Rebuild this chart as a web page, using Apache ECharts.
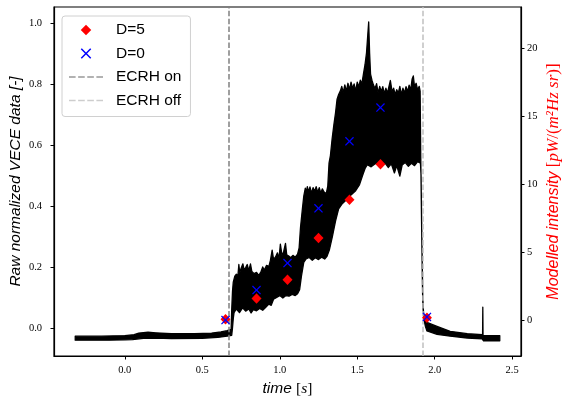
<!DOCTYPE html>
<html><head><meta charset="utf-8">
<script src="https://cdn.jsdelivr.net/npm/echarts@6/dist/echarts.min.js"></script>
<style>html,body{margin:0;padding:0;background:#fff}#c{width:563px;height:398px}</style>
</head><body><div id="c"></div>
<script>
// ---- tick labels ----
const X_TICKS = [0.0, 0.5, 1.0, 1.5, 2.0, 2.5];
const Y_LEFT_TICKS = [0.0, 0.2, 0.4, 0.6, 0.8, 1.0];
const Y_RIGHT_TICKS = [0, 5, 10, 15, 20];

// ---- ECRH switching times [s] ----
const ECRH_ON = 0.67;
const ECRH_OFF = 1.92;

// ---- modelled intensity points [pW/(m^2 Hz sr)] ----
const MODEL_T = [0.65, 0.85, 1.05, 1.25, 1.45, 1.65, 1.95];
const D5 = [0.10, 1.64, 3.00, 6.07, 8.88, 11.48, 0.22];
const D0 = [0.05, 2.25, 4.23, 8.25, 13.17, 15.65, 0.28];

// ---- raw VECE signal: upper / lower envelope of the noisy trace ----
const UPPER_T = [-0.320,-0.150,0.000,0.060,0.090,0.150,0.200,0.300,0.450,0.560,0.620,0.660,0.686,0.690,0.695,
0.700,0.710,0.720,0.730,0.736,0.742,0.750,0.762,0.770,0.780,0.790,0.800,0.811,0.820,0.835,0.850,0.865,0.880,0.890,0.900,
0.915,0.930,0.940,0.951,0.960,0.972,0.985,0.995,1.004,1.015,1.025,1.037,1.045,1.058,1.070,1.085,1.100,1.115,1.125,1.134,
1.145,1.155,1.165,1.172,1.178,1.185,1.195,1.205,1.215,1.225,1.235,1.245,1.255,1.265,1.275,1.285,1.300,1.310,1.318,1.327,
1.338,1.349,1.360,1.370,1.380,1.392,1.400,1.410,1.420,1.430,1.440,1.450,1.460,1.470,1.480,1.490,1.500,1.510,1.520,1.530,
1.540,1.550,1.560,1.568,1.574,1.580,1.586,1.595,1.605,1.615,1.625,1.635,1.645,1.655,1.665,1.675,1.685,1.695,1.705,1.714,
1.725,1.735,1.745,1.755,1.765,1.775,1.785,1.795,1.805,1.815,1.825,1.835,1.845,1.854,1.862,1.870,1.880,1.890,1.900,1.906,
1.910,1.916,1.922,1.928,1.935,1.950,2.015,2.100,2.210,2.306,2.309,2.3105,2.312,2.420];
const UPPER_V = [-0.027,-0.027,-0.025,-0.022,-0.017,-0.014,-0.016,-0.019,-0.019,-0.017,-0.013,-0.009,-0.005,0.060,0.120,
0.150,0.170,0.176,0.172,0.208,0.180,0.195,0.210,0.190,0.198,0.208,0.188,0.210,0.185,0.178,0.182,0.172,0.186,0.200,0.190,
0.205,0.202,0.222,0.255,0.225,0.232,0.246,0.228,0.275,0.236,0.250,0.277,0.240,0.236,0.230,0.238,0.232,0.242,0.262,0.330,
0.385,0.432,0.458,0.445,0.463,0.446,0.462,0.442,0.460,0.447,0.463,0.445,0.460,0.442,0.456,0.446,0.440,0.465,0.540,0.565,
0.620,0.665,0.705,0.750,0.765,0.778,0.792,0.772,0.797,0.776,0.802,0.781,0.806,0.786,0.800,0.776,0.806,0.790,0.812,0.800,
0.832,0.862,0.902,0.960,1.003,0.900,0.832,0.812,0.796,0.785,0.801,0.770,0.792,0.775,0.791,0.768,0.786,0.770,0.792,0.811,
0.775,0.786,0.765,0.781,0.770,0.792,0.765,0.786,0.770,0.791,0.775,0.796,0.780,0.815,0.826,0.790,0.802,0.780,0.792,0.776,
0.560,0.320,0.110,0.050,0.030,0.018,0.005,-0.011,-0.019,-0.022,-0.022,0.068,-0.025,-0.025];
const LOWER_T = [-0.320,-0.100,0.000,0.050,0.120,0.200,0.300,0.500,0.600,0.660,0.690,0.695,0.700,0.705,0.720,0.740,0.760,
0.780,0.800,0.815,0.830,0.850,0.870,0.890,0.910,0.930,0.945,0.960,0.980,1.000,1.020,1.040,1.060,1.080,1.100,1.115,1.128,
1.140,1.155,1.170,1.190,1.210,1.230,1.250,1.270,1.290,1.305,1.320,1.340,1.360,1.380,1.400,1.430,1.460,1.490,1.515,1.535,
1.550,1.565,1.590,1.620,1.650,1.680,1.700,1.720,1.740,1.755,1.775,1.790,1.810,1.830,1.850,1.870,1.890,1.908,1.912,1.918,
1.924,1.930,1.940,1.950,2.015,2.100,2.210,2.306,2.315,2.420];
const LOWER_V = [-0.040,-0.040,-0.039,-0.038,-0.034,-0.033,-0.035,-0.034,-0.031,-0.027,-0.024,0.000,0.030,0.050,0.062,0.050,0.066,
0.055,0.062,0.049,0.060,0.056,0.064,0.058,0.068,0.078,0.074,0.094,0.100,0.106,0.098,0.106,0.104,0.110,0.106,0.112,0.125,
0.170,0.215,0.226,0.231,0.222,0.230,0.224,0.232,0.226,0.235,0.255,0.300,0.350,0.390,0.405,0.420,0.436,0.450,0.470,0.500,
0.522,0.535,0.528,0.540,0.530,0.540,0.526,0.538,0.508,0.532,0.498,0.534,0.542,0.530,0.540,0.532,0.545,0.540,0.500,0.270,
0.070,0.030,0.005,-0.010,-0.021,-0.027,-0.033,-0.036,-0.042,-0.042];

const chart = echarts.init(document.getElementById('c'), null, {renderer: 'canvas'});

const X_MARK = 'path://M0,1L1,0L5,4L9,0L10,1L6,5L10,9L9,10L5,6L1,10L0,9L4,5Z';
const DIAMOND = 'path://M5,0L10,5L5,10L0,5Z';
const DASH_ICON = 'path://M0,0h6.6v1.5h-6.6zM9.1,0h6.6v1.5h-6.6zM18.2,0h6.6v1.5h-6.6zM27.3,0h6.6v1.5h-6.6z';
const DASH = [5.5, 2.4];
const serif = 'Liberation Serif', sans = 'Liberation Sans';

chart.setOption({
  animation: false,
  backgroundColor: '#fff',
  grid: {left: 54, right: 42, top: 7, bottom: 42, show: true, borderColor: '#000', borderWidth: 1.2,
         backgroundColor: 'transparent', containLabel: false, outerBoundsMode: 'none'},
  legend: {
    orient: 'vertical', left: 62, top: 16,
    data: [
      {name: 'D=5', icon: DIAMOND},
      {name: 'D=0', icon: X_MARK},
      {name: 'ECRH on', icon: DASH_ICON},
      {name: 'ECRH off', icon: DASH_ICON}
    ],
    symbolKeepAspect: true,
    itemWidth: 34, itemHeight: 10.5, itemGap: 7.5,
    padding: [6, 9, 8, 7],
    backgroundColor: 'rgba(255,255,255,0.8)', borderColor: '#d0d0d0', borderWidth: 1, borderRadius: 3,
    textStyle: {fontFamily: sans, fontSize: 15.5, lineHeight: 16, color: '#000', padding: [0, 0, 0, 8]},
    selectedMode: false
  },
  xAxis: {
    type: 'value', min: -0.457, max: 2.557,
    axisLine: {onZero: false, lineStyle: {color: '#000', width: 1.2}},
    axisTick: {customValues: X_TICKS, length: 3.5, lineStyle: {color: '#000', width: 1}},
    axisLabel: {customValues: X_TICKS, formatter: v => v.toFixed(1), fontFamily: serif, fontSize: 10.5, color: '#000', margin: 9},
    splitLine: {show: false},
    name: '{a|time }{b|[}{c|s}{b|]}', nameLocation: 'middle', nameGap: 25,
    nameTextStyle: {rich: {
      a: {fontFamily: sans, fontStyle: 'italic', fontSize: 15.5, color: '#000'},
      b: {fontFamily: serif, fontSize: 15.5, color: '#000'},
      c: {fontFamily: serif, fontStyle: 'italic', fontSize: 15.5, color: '#000'}
    }}
  },
  yAxis: [
    {
      type: 'value', position: 'left', min: -0.092, max: 1.052,
      axisLine: {show: true, onZero: false, lineStyle: {color: '#000', width: 1.2}},
      axisTick: {show: true, customValues: Y_LEFT_TICKS, length: 3.5, lineStyle: {color: '#000', width: 1}},
      axisLabel: {customValues: Y_LEFT_TICKS, formatter: v => v.toFixed(1), fontFamily: serif, fontSize: 10.5, color: '#000', margin: 12},
      splitLine: {show: false},
      name: 'Raw normalized VECE data [-]', nameLocation: 'middle', nameGap: 30, nameRotate: 90, nameMoveOverlap: false,
      nameTextStyle: {fontFamily: sans, fontStyle: 'italic', fontSize: 15.5, color: '#000'}
    },
    {
      type: 'value', position: 'right', min: -2.59, max: 23.03,
      axisLine: {show: true, onZero: false, lineStyle: {color: '#000', width: 1.2}},
      axisTick: {show: true, customValues: Y_RIGHT_TICKS, length: 3.5, lineStyle: {color: '#000', width: 1}},
      axisLabel: {customValues: Y_RIGHT_TICKS, formatter: v => String(v), fontFamily: serif, fontSize: 10.5, color: '#000', margin: 6},
      splitLine: {show: false},
      name: '{a|Modelled intensity }{b|[}{c|pW}{b|/(}{c|m²Hz sr}{b|)]}', nameLocation: 'middle', nameGap: 24, nameRotate: 90, nameMoveOverlap: false,
      nameTextStyle: {rich: {
        a: {fontFamily: sans, fontStyle: 'italic', fontSize: 16, color: '#ff0000'},
        b: {fontFamily: serif, fontSize: 17, color: '#ff0000'},
        c: {fontFamily: serif, fontStyle: 'italic', fontSize: 17, color: '#ff0000'}
      }}
    }
  ],
  series: [
    {
      type: 'custom', name: 'VECE', xAxisIndex: 0, yAxisIndex: 0, clip: true, silent: true, z: 1,
      data: [[UPPER_T[0], UPPER_V[0]]],
      renderItem: (params, api) => {
        const pts = [];
        for (let i = 0; i < UPPER_T.length; i++) pts.push(api.coord([UPPER_T[i], UPPER_V[i]]));
        for (let i = LOWER_T.length - 1; i >= 0; i--) pts.push(api.coord([LOWER_T[i], LOWER_V[i]]));
        return {type: 'polygon', shape: {points: pts}, style: {fill: '#000', stroke: '#000', lineWidth: 1.3, lineJoin: 'round'}};
      }
    },
    {
      type: 'scatter', name: 'ECRH on', data: [], z: 5,
      itemStyle: {color: '#808080'},
      markLine: {silent: true, symbol: ['none', 'none'], label: {show: false},
        lineStyle: {color: '#808080', type: DASH, width: 1.5}, data: [{xAxis: ECRH_ON}]}
    },
    {
      type: 'scatter', name: 'ECRH off', data: [], z: 5,
      itemStyle: {color: '#c0c0c0'},
      markLine: {silent: true, symbol: ['none', 'none'], label: {show: false},
        lineStyle: {color: '#c0c0c0', type: DASH, width: 1.5}, data: [{xAxis: ECRH_OFF}]}
    },
    {
      type: 'scatter', name: 'D=5', yAxisIndex: 1, z: 6,
      data: MODEL_T.map((t, i) => [t, D5[i]]),
      symbol: 'diamond', symbolSize: [10, 10.5],
      itemStyle: {color: '#ff0000', opacity: 1}
    },
    {
      type: 'scatter', name: 'D=0', yAxisIndex: 1, z: 7,
      data: MODEL_T.map((t, i) => [t, D0[i]]),
      symbol: X_MARK, symbolSize: 9,
      itemStyle: {color: '#0000ff', opacity: 1}
    }
  ]
});
</script>
</body></html>
